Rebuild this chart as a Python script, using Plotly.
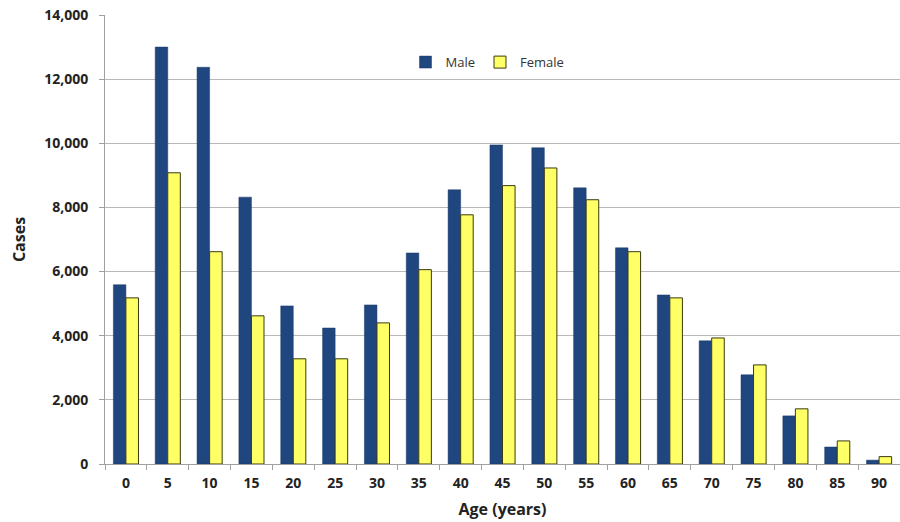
import plotly.graph_objects as go

ages = ["0", "5", "10", "15", "20", "25", "30", "35", "40", "45",
        "50", "55", "60", "65", "70", "75", "80", "85", "90"]
male = [5590, 13000, 12370, 8320, 4930, 4240, 4960, 6580, 8550, 9950,
        9860, 8610, 6740, 5270, 3840, 2780, 1500, 530, 120]
female = [5180, 9080, 6620, 4620, 3280, 3280, 4400, 6060, 7770, 8680,
          9230, 8240, 6620, 5180, 3930, 3090, 1720, 720, 230]

font_family = "Open Sans, Liberation Sans, sans-serif"

fig = go.Figure()
fig.add_trace(go.Bar(x=ages, y=male, name="Male",
                     marker=dict(color="#1F467E", line=dict(color="#1A3A68", width=0.5))))
fig.add_trace(go.Bar(x=ages, y=female, name="Female",
                     marker=dict(color="#FFFF66", line=dict(color="#3A3A10", width=1))))

fig.update_layout(
    width=900, height=522,
    margin=dict(l=105, r=0, t=15, b=58),
    plot_bgcolor="white", paper_bgcolor="white",
    barmode="group", bargap=0.4, bargroupgap=0,
    font=dict(family=font_family, color="#222222"),
    legend=dict(orientation="h", x=0.378, y=0.895, xanchor="left", yanchor="middle",
                font=dict(size=13, color="#333333"), bgcolor="rgba(0,0,0,0)",
                traceorder="normal"),
    xaxis=dict(
        type="category", automargin=False,
        title=dict(text="<b>Age (years)</b>", font=dict(size=16), standoff=13),
        tickfont=dict(size=14, weight="bold"), ticklabelstandoff=6,
        showline=True, linecolor="#A0A0A0", linewidth=1,
        ticks="outside", tickson="boundaries", ticklen=5, tickcolor="#A0A0A0",
        showgrid=False,
    ),
    yaxis=dict(
        automargin=False, ticklabeloverflow="allow",
        title=dict(text="<b>Cases</b>", font=dict(size=16), standoff=14),
        range=[0, 14000], dtick=2000, tickformat=",",
        tickfont=dict(size=14, weight="bold"), ticklabelstandoff=8,
        showline=True, linecolor="#A0A0A0", linewidth=1,
        ticks="outside", ticklen=5, tickcolor="#A0A0A0",
        showgrid=True, gridcolor="#B8B8B8", gridwidth=1,
        zeroline=False,
    ),
)

fig.write_html("out.html", config={"displayModeBar": False},
               post_script="document.body.style.margin='0';document.body.style.overflow='hidden';")
